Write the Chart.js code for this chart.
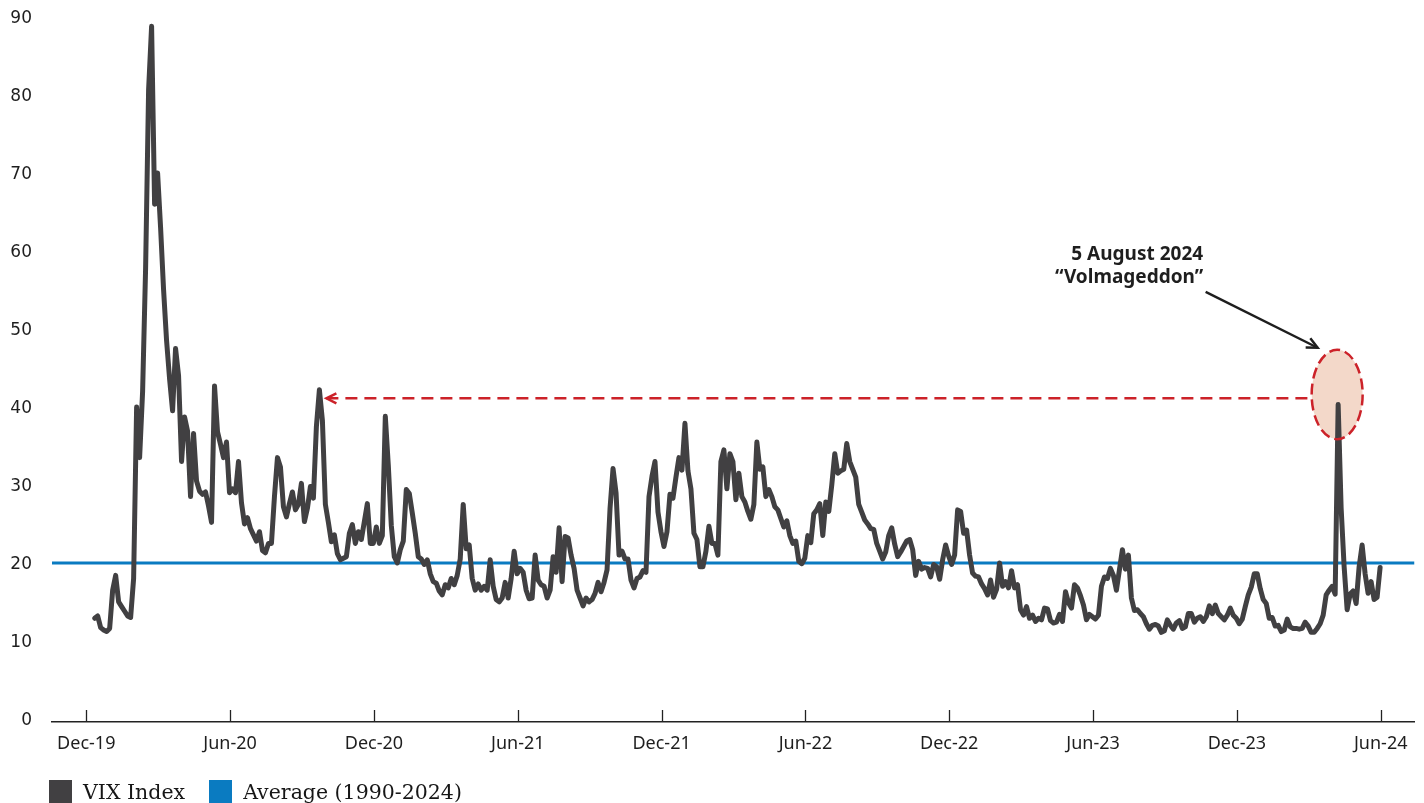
<!DOCTYPE html>
<html><head><meta charset="utf-8">
<script src="https://cdn.jsdelivr.net/npm/chart.js@4.4.1/dist/chart.umd.min.js"></script>
<style>
html,body{margin:0;padding:0;background:#fff;}
#wrap{position:relative;width:1424px;height:803px;overflow:hidden;}
#legend{position:absolute;left:49px;top:780px;height:23px;display:flex;align-items:center;font-family:"DejaVu Serif",serif;font-size:20.5px;color:#161616;white-space:nowrap;}
.item{display:flex;align-items:center;margin-right:24px;}
.sw{width:23px;height:23px;margin-right:11px;}
</style></head><body>
<div id="wrap"><canvas id="c" width="1424" height="803"></canvas><div id="legend"></div></div>
<script>
// ---- data ----
const tickLabels = ['Dec-19','Jun-20','Dec-20','Jun-21','Dec-21','Jun-22','Dec-22','Jun-23','Dec-23','Jun-24'];
const yTicks = [0,10,20,30,40,50,60,70,80,90];
const averageLevel = 20;           // Average (1990-2024)
const seriesLabels = ['VIX Index','Average (1990-2024)'];
// VIX Index observations, evenly spaced (months after the Dec-19 tick)
const seriesStart = 0.35;
const seriesStep = 0.125;
const vixValues = [
12.9,13.2,11.7,11.4,11.2,11.6,16.5,18.4,15.0,14.4,
13.8,13.2,13.0,18.0,40.0,33.5,42.0,57.8,80.7,88.8,
66.0,70.0,63.0,55.0,48.5,43.6,39.5,47.5,44.0,33.0,
38.7,36.9,28.5,36.6,30.5,29.2,28.8,29.1,27.3,25.2,
42.7,36.8,35.2,33.5,35.5,29.0,29.5,29.0,33.0,27.7,
25.0,25.8,24.4,23.6,22.8,24.0,21.6,21.3,22.5,22.5,
28.5,33.5,32.3,27.2,25.9,27.6,29.1,26.8,27.5,30.2,
25.3,27.0,29.8,28.3,37.5,42.2,38.3,27.5,25.2,22.7,
23.6,21.2,20.4,20.6,20.8,23.8,24.9,22.5,24.0,23.0,
25.3,27.6,22.5,22.5,24.6,22.5,23.5,38.8,32.5,24.8,
20.8,20.0,21.7,22.8,29.4,28.9,26.4,23.8,20.8,20.5,
19.8,20.4,18.6,17.6,17.4,16.4,15.9,17.2,16.8,18.0,
17.2,18.4,20.5,27.5,21.8,22.3,18.0,16.5,17.3,16.5,
17.0,16.5,20.4,17.0,15.3,15.0,15.5,17.5,15.5,18.0,
21.5,18.6,19.3,18.8,16.5,15.4,15.5,21.0,17.8,17.2,
17.0,15.5,16.5,20.8,18.8,24.5,17.6,23.4,23.2,21.0,
19.3,16.5,15.5,14.5,15.5,15.0,15.3,16.1,17.5,16.3,
17.5,19.1,27.0,32.1,29.0,21.0,21.5,20.5,20.5,17.8,
16.8,18.0,18.2,19.0,18.8,28.5,31.1,33.0,26.5,24.0,
22.1,24.0,28.8,28.3,31.0,33.5,31.9,37.9,31.8,29.5,
23.8,23.0,19.5,19.5,21.5,24.7,22.5,22.5,21.0,33.0,
34.5,29.5,34.0,33.0,28.1,31.5,28.5,27.8,26.6,25.6,
27.5,35.5,32.0,32.3,28.5,29.4,28.5,27.2,26.8,25.7,
24.6,25.4,23.5,22.5,22.8,20.2,19.9,20.6,23.5,22.6,
26.3,26.8,27.6,23.5,27.8,26.6,30.0,34.0,31.5,31.8,
32.0,35.3,33.0,32.0,31.0,27.5,26.5,25.5,25.0,24.4,
24.3,22.5,21.5,20.5,21.4,23.5,24.5,22.4,20.8,21.4,
22.1,22.8,23.0,21.7,18.4,20.2,19.2,19.4,19.3,18.2,
19.8,19.5,17.9,20.4,22.3,20.9,19.8,21.0,26.8,26.6,
23.8,24.2,21.0,18.7,18.3,18.2,17.3,16.7,15.9,17.8,
15.6,16.6,20.0,17.0,17.6,16.8,19.0,16.8,17.2,14.0,
13.3,14.4,12.9,13.3,12.5,12.9,12.7,14.2,14.1,12.6,
12.3,12.4,13.4,12.5,16.3,14.9,14.2,17.2,16.8,15.8,
14.6,12.7,13.4,13.1,12.8,13.3,17.0,18.2,18.0,19.3,
18.4,16.5,19.1,21.7,19.2,21.0,15.5,13.9,14.0,13.5,
13.1,12.2,11.5,12.0,12.1,11.9,11.1,11.3,12.7,12.0,
11.5,12.3,12.6,11.6,11.8,13.5,13.5,12.4,12.9,13.1,
12.5,13.1,14.5,13.5,14.6,13.5,13.1,12.7,13.3,14.2,
13.3,12.9,12.2,12.8,14.4,15.9,16.9,18.6,18.6,16.7,
15.3,14.8,12.9,13.0,11.9,12.0,11.2,11.4,12.8,11.8,
11.6,11.6,11.5,11.6,12.4,11.9,11.1,11.1,11.6,12.2,
13.3,15.9,16.5,17.0,16.0,40.3,27.0,19.5,14.0,16.0,
16.4,14.8,19.5,22.3,18.6,16.1,17.6,15.3,15.6,19.4
];
// annotation anchors (data units)
const annotationText = ['5 August 2024','\u201CVolmageddon\u201D'];
const arrowLevel = 41.1;
const ellipseLevel = 41.6;

// ---- chart ----
const xMin = -1.43, xMax = 55.41;
const vixColor = '#414042', avgColor = '#0a7bc1', red = '#cc2229';
const vixPoints = vixValues.map((v,i)=>({x: seriesStart + i*seriesStep, y: v}));
const avgPoints = [{x:xMin,y:averageLevel},{x:xMax,y:averageLevel}];

function peakIndex(from,to){let b=from;for(let i=from;i<to;i++){if(vixValues[i]>vixValues[b])b=i;}return b;}

function ellipseGeom(chart){
  const xs=chart.scales.x, ys=chart.scales.y;
  const k=peakIndex(vixValues.length-30,vixValues.length);
  return {cx:xs.getPixelForValue(vixPoints[k].x)-1, cy:ys.getPixelForValue(ellipseLevel), rx:25.5, ry:44.7};
}

const annot = {
  id:'annot',
  beforeDatasetsDraw(chart){
    const ctx=chart.ctx, g=ellipseGeom(chart);
    ctx.save();
    ctx.beginPath(); ctx.ellipse(g.cx,g.cy,g.rx,g.ry,0,0,Math.PI*2);
    ctx.fillStyle='#f3d8c9'; ctx.fill();
    ctx.restore();
  },
  afterDatasetsDraw(chart){
    const xs=chart.scales.x, ys=chart.scales.y, ctx=chart.ctx;
    const {cx,cy,rx,ry}=ellipseGeom(chart);
    ctx.save();
    ctx.beginPath(); ctx.ellipse(cx,cy,rx,ry,0,0,Math.PI*2);
    ctx.setLineDash([11,5]); ctx.strokeStyle=red; ctx.lineWidth=2.5; ctx.stroke();
    const p=peakIndex(60,90);
    const tipX=xs.getPixelForValue(vixPoints[p].x)+7, ay=ys.getPixelForValue(arrowLevel);
    ctx.beginPath(); ctx.setLineDash([12,7]); ctx.moveTo(tipX,ay); ctx.lineTo(cx-rx,ay); ctx.stroke();
    ctx.setLineDash([]);
    ctx.beginPath(); ctx.moveTo(tipX+10,ay-5); ctx.lineTo(tipX,ay); ctx.lineTo(tipX+10,ay+5); ctx.stroke();
    const ex=cx-19.5, ey=cy-ry-2, sx=cx-131.5, sy=cy-102.5;
    ctx.strokeStyle='#1e1e1e'; ctx.lineWidth=2.5;
    ctx.beginPath(); ctx.moveTo(sx,sy); ctx.lineTo(ex,ey); ctx.stroke();
    const ang=Math.atan2(ey-sy,ex-sx), L=12, w=0.45;
    ctx.beginPath();
    ctx.moveTo(ex-L*Math.cos(ang-w),ey-L*Math.sin(ang-w)); ctx.lineTo(ex,ey);
    ctx.lineTo(ex-L*Math.cos(ang+w),ey-L*Math.sin(ang+w)); ctx.stroke();
    ctx.fillStyle='#1e1e1e'; ctx.font='bold 19px "Noto Sans"'; ctx.textAlign='right'; ctx.textBaseline='middle';
    ctx.fillText(annotationText[0], cx-134, cy-140);
    ctx.fillText(annotationText[1], cx-134, cy-116.5);
    ctx.restore();
  },
  afterDraw(chart){
    const xs=chart.scales.x, ctx=chart.ctx, b=chart.chartArea.bottom;
    ctx.save(); ctx.strokeStyle='#222'; ctx.lineWidth=1.3;
    xs.ticks.forEach(t=>{const px=Math.round(xs.getPixelForValue(t.value))+0.5;
      ctx.beginPath(); ctx.moveTo(px,b); ctx.lineTo(px,b-12); ctx.stroke();});
    ctx.restore();
  }
};

const chart = new Chart(document.getElementById('c'), {
  type:'line',
  data:{datasets:[
    {label:seriesLabels[0], data:vixPoints, borderColor:vixColor, backgroundColor:vixColor, borderWidth:5, pointRadius:0, tension:0, borderJoinStyle:'round', borderCapStyle:'round'},
    {label:seriesLabels[1], data:avgPoints, borderColor:avgColor, backgroundColor:avgColor, borderWidth:3, pointRadius:0}
  ]},
  options:{
    responsive:false, animation:false, devicePixelRatio:1,
    layout:{padding:{top:17,right:9.5,bottom:47,left:0}},
    plugins:{legend:{display:false}, tooltip:{enabled:false}},
    scales:{
      x:{type:'linear', min:xMin, max:xMax,
        afterBuildTicks:s=>{s.ticks=tickLabels.map((_,k)=>({value:k*6}));},
        ticks:{callback:v=>tickLabels[Math.round(v/6)], font:{family:'Noto Sans',size:18}, color:'#1e1e1e', padding:11, maxRotation:0, autoSkip:false},
        grid:{display:true, drawOnChartArea:false, drawTicks:false},
        border:{display:true, color:'#222', width:1.5},
        afterFit:s=>{s.height=34; s.paddingLeft=0; s.paddingRight=0;}
      },
      y:{min:-0.4, max:90,
        afterBuildTicks:s=>{s.ticks=yTicks.map(v=>({value:v}));},
        ticks:{font:{family:'DejaVu Sans',size:17}, color:'#1e1e1e', padding:12, labelOffset:2},
        grid:{display:false}, border:{display:false},
        afterFit:s=>{s.width=52; s.paddingTop=0; s.paddingBottom=0;}
      }
    }
  },
  plugins:[annot]
});

const lg=document.getElementById('legend');
chart.data.datasets.forEach(ds=>{
  const it=document.createElement('div'); it.className='item';
  const sw=document.createElement('div'); sw.className='sw'; sw.style.background=ds.borderColor;
  const tx=document.createElement('span'); tx.textContent=ds.label;
  it.appendChild(sw); it.appendChild(tx); lg.appendChild(it);
});
</script>
</body></html>
